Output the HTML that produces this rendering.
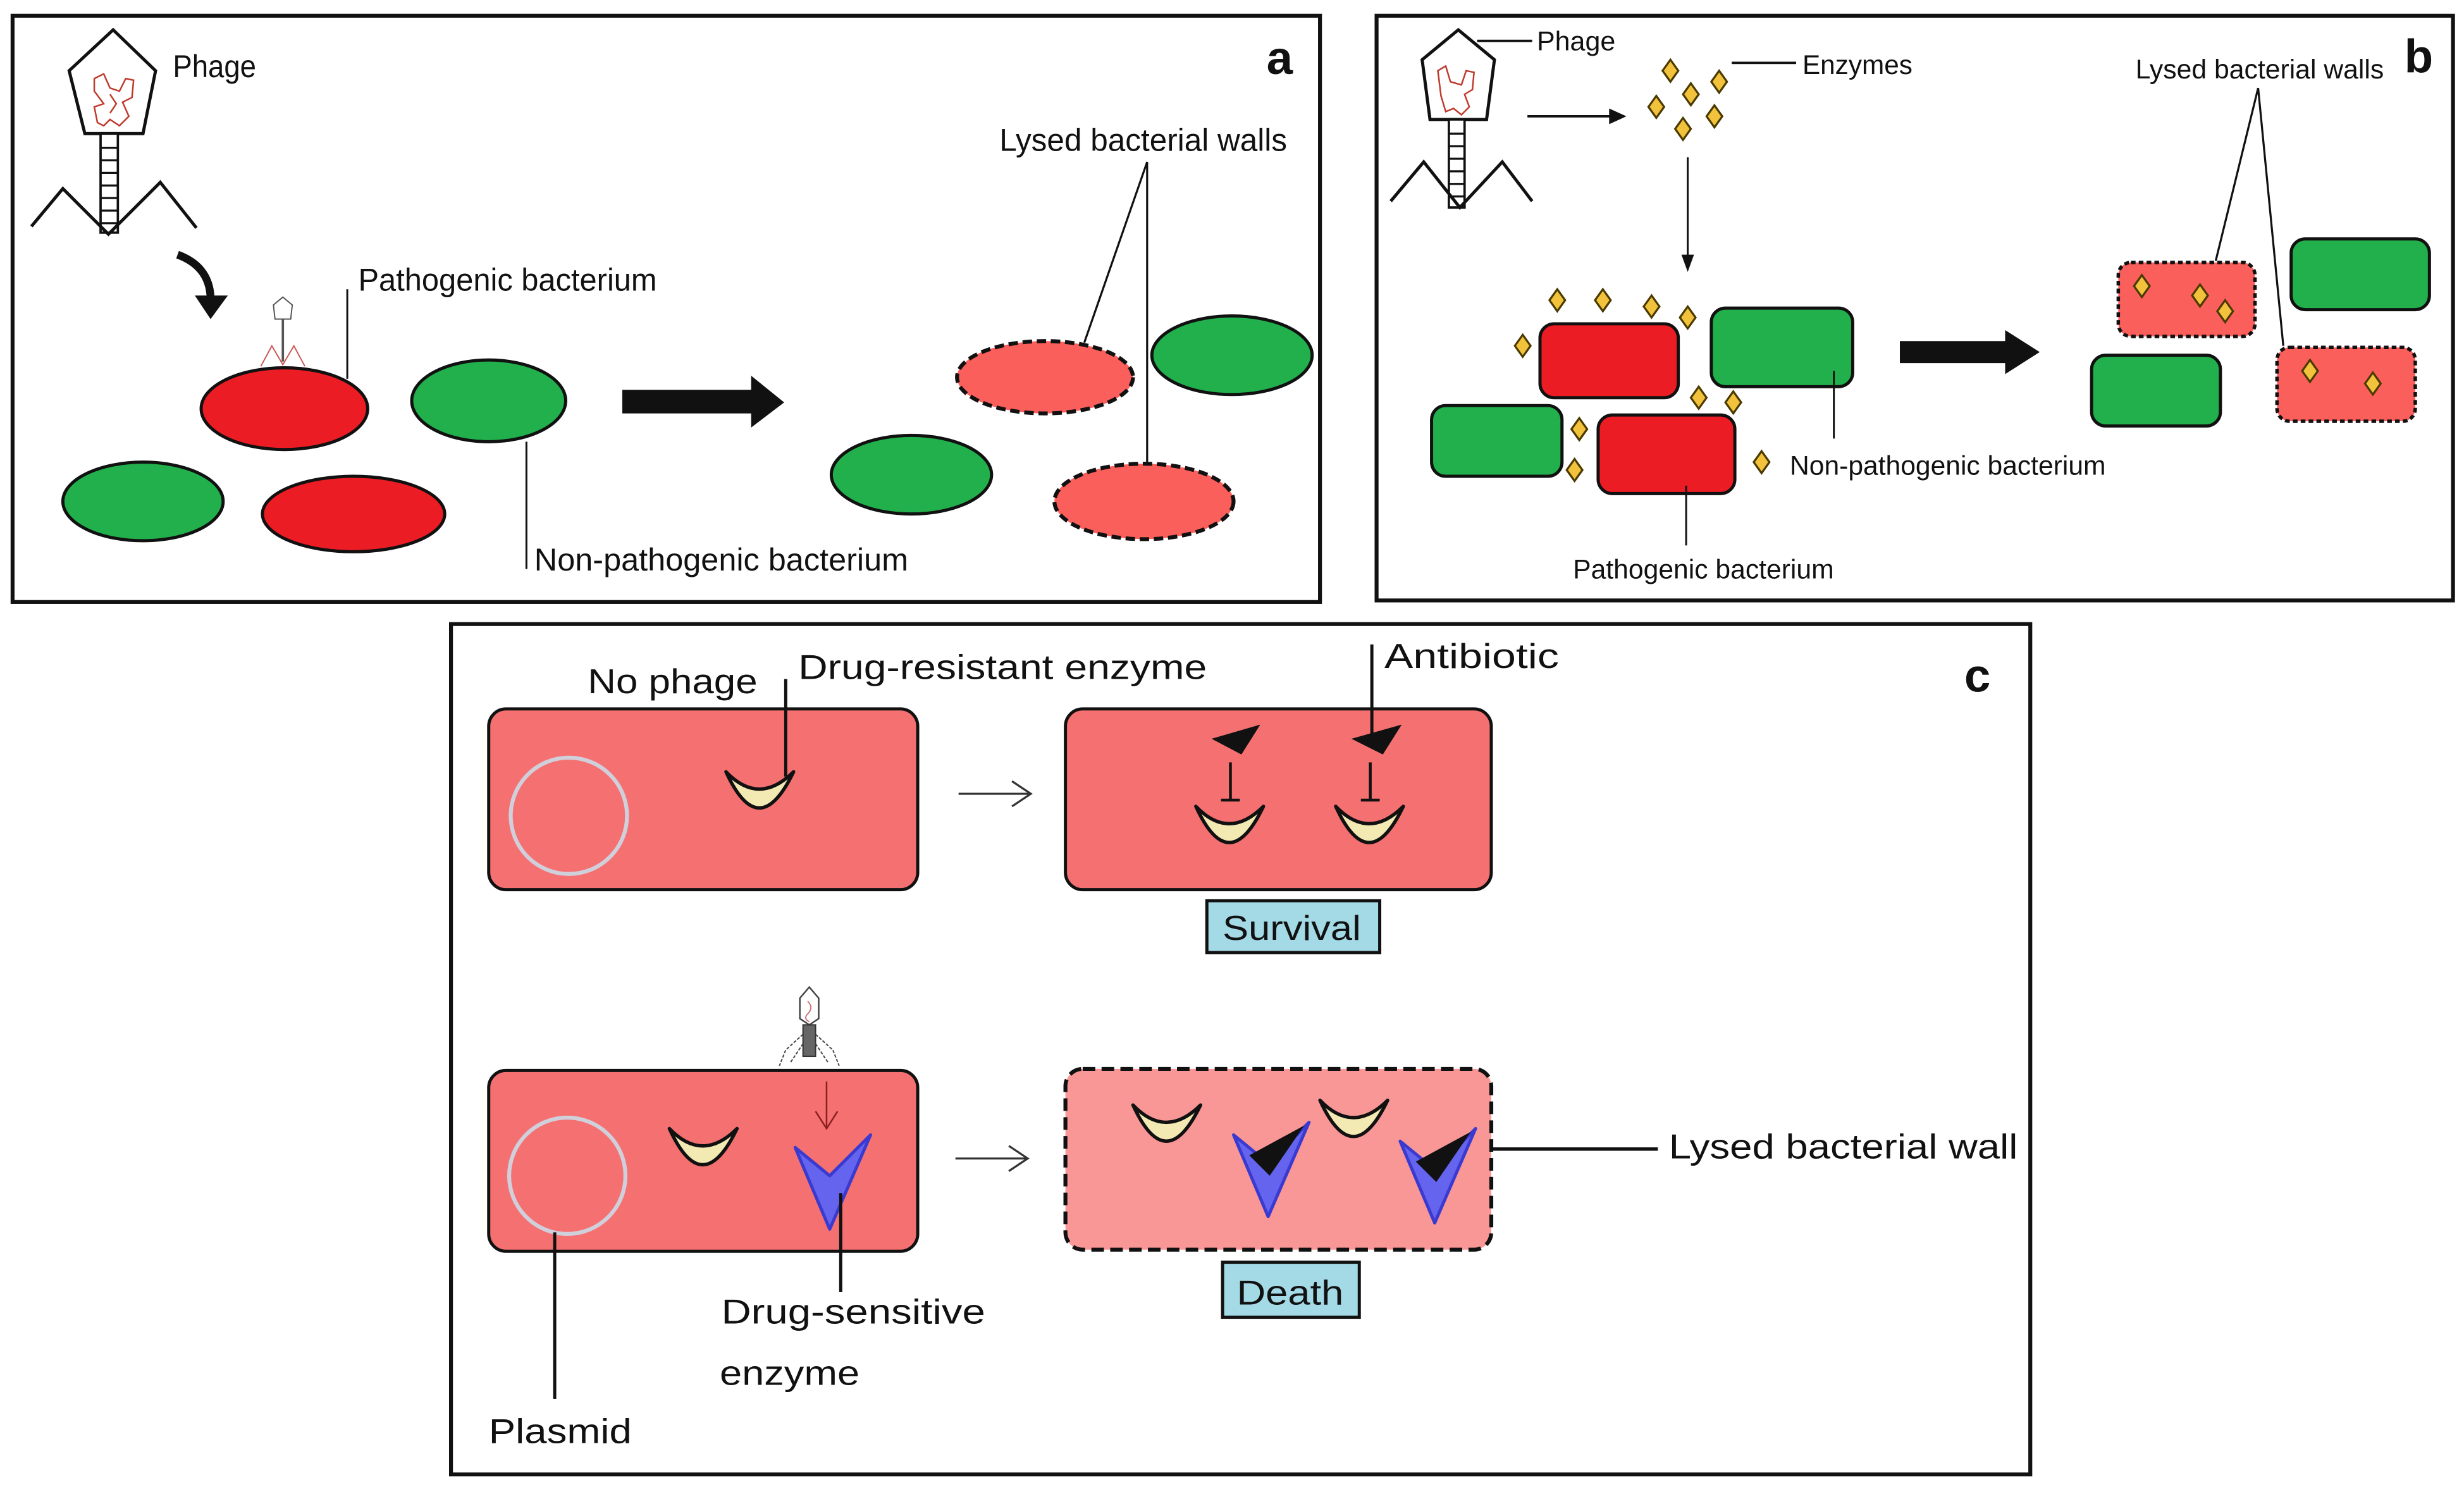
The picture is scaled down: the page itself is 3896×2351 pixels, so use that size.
<!DOCTYPE html>
<html><head><meta charset="utf-8"><style>
html,body{margin:0;padding:0;background:#fff;}
svg{display:block;}
text{font-family:"Liberation Sans",sans-serif;fill:#111;}
</style></head><body>
<svg width="3896" height="2351" viewBox="0 0 1568 946" preserveAspectRatio="none" xmlns="http://www.w3.org/2000/svg">
<defs>
<g id="cres"><path d="M0,0 Q21,46 43,0 Q21,22 0,0 Z" fill="#f3e9b3" stroke="#111" stroke-width="2.2" stroke-linejoin="round"/></g>
<g id="dia"><polygon points="0,-7 5,0 0,7 -5,0" fill="#f2c23c" stroke="#4a3a00" stroke-width="1.3"/></g>
<g id="vb"><polygon points="0,8 22,26 48,0 22,60" fill="#6464ee" stroke="#3a3ad0" stroke-width="2" stroke-linejoin="round"/></g>
</defs>
<rect width="1568" height="946" fill="#fff"/>

<!-- PANEL A -->
<rect x="8" y="10" width="832" height="373" fill="none" stroke="#111" stroke-width="2.5"/>
<text x="806" y="47" font-size="30" font-weight="bold">a</text>
<polygon points="72,19 99,45 91,85 54,85 44,45" fill="#fff" stroke="#111" stroke-width="2"/>
<path d="M60,50 L66,47 L70,56 L76,58 L80,50 L85,51 L84,62 L78,65 L82,74 L76,80 L70,76 L66,80 L62,78 L60,68 L66,66 L60,58 Z M70,60 L74,66 L70,72" fill="none" stroke="#c0392b" stroke-width="1"/>
<rect x="64" y="85" width="11" height="63" fill="#fff" stroke="#111" stroke-width="1.5"/>
<path d="M64,94H75M64,102H75M64,110H75M64,118H75M64,126H75M64,134H75M64,142H75" stroke="#111" stroke-width="1.3"/>
<polyline points="20,144 40,120 69,149 102,116 125,145" fill="none" stroke="#111" stroke-width="2"/>
<text x="110" y="49" font-size="20" textLength="53" lengthAdjust="spacingAndGlyphs">Phage</text>
<path d="M113,162 Q135,170 134,193" fill="none" stroke="#111" stroke-width="5"/>
<polygon points="124,188 145,188 134,203" fill="#111"/>
<!-- small phage -->
<polygon points="180,189 186,194 185,203 175,203 174,194" fill="#fff" stroke="#555" stroke-width="0.8"/>
<line x1="180" y1="203" x2="180" y2="230" stroke="#555" stroke-width="1.5"/>
<polyline points="166,233 173,220 180,232 187,220 194,233" fill="none" stroke="#c55" stroke-width="0.8"/>
<ellipse cx="181" cy="260" rx="53" ry="26" fill="#ec1c24" stroke="#111" stroke-width="2"/>
<ellipse cx="311" cy="255" rx="49" ry="26" fill="#21b04b" stroke="#111" stroke-width="2"/>
<ellipse cx="91" cy="319" rx="51" ry="25" fill="#21b04b" stroke="#111" stroke-width="2"/>
<ellipse cx="225" cy="327" rx="58" ry="24" fill="#ec1c24" stroke="#111" stroke-width="2"/>
<line x1="221" y1="184" x2="221" y2="241" stroke="#111" stroke-width="1.2"/>
<text x="228" y="185" font-size="20" textLength="190" lengthAdjust="spacingAndGlyphs">Pathogenic bacterium</text>
<line x1="335" y1="281" x2="335" y2="362" stroke="#111" stroke-width="1.2"/>
<text x="340" y="363" font-size="20" textLength="238" lengthAdjust="spacingAndGlyphs">Non-pathogenic bacterium</text>
<polygon points="396,248 478,248 478,239 499,256 478,272 478,263 396,263" fill="#111"/>
<ellipse cx="665" cy="240" rx="56" ry="23" fill="#fa5f5b" stroke="#111" stroke-width="2.5" stroke-dasharray="6 3"/>
<ellipse cx="784" cy="226" rx="51" ry="25" fill="#21b04b" stroke="#111" stroke-width="2"/>
<ellipse cx="580" cy="302" rx="51" ry="25" fill="#21b04b" stroke="#111" stroke-width="2"/>
<ellipse cx="728" cy="319" rx="57" ry="24" fill="#fa5f5b" stroke="#111" stroke-width="2.5" stroke-dasharray="6 3"/>
<text x="636" y="96" font-size="20" textLength="183" lengthAdjust="spacingAndGlyphs">Lysed bacterial walls</text>
<path d="M730,103 L690,218 M730,103 L730,296" stroke="#111" stroke-width="1.3" fill="none"/>

<!-- PANEL B -->
<rect x="876" y="10" width="685" height="372" fill="none" stroke="#111" stroke-width="2.5"/>
<text x="1530" y="46" font-size="30" font-weight="bold">b</text>
<polygon points="928,19 951,38 946,76 910,76 905,38" fill="#fff" stroke="#111" stroke-width="2"/>
<path d="M915,45 L920,42 L923,52 L930,54 L933,45 L938,46 L937,57 L932,60 L935,68 L930,73 L925,69 L920,71 L917,61 Z" fill="none" stroke="#c0392b" stroke-width="1"/>
<rect x="922" y="76" width="10" height="56" fill="#fff" stroke="#111" stroke-width="1.5"/>
<path d="M922,85H932M922,93H932M922,101H932M922,109H932M922,117H932M922,125H932" stroke="#111" stroke-width="1.3"/>
<polyline points="885,128 906,103 929,132 956,103 975,128" fill="none" stroke="#111" stroke-width="2"/>
<line x1="940" y1="26" x2="975" y2="26" stroke="#111" stroke-width="1.5"/>
<text x="978" y="32" font-size="17" textLength="50" lengthAdjust="spacingAndGlyphs">Phage</text>
<line x1="972" y1="74" x2="1028" y2="74" stroke="#111" stroke-width="1.5"/>
<polygon points="1024,69 1035,74 1024,79" fill="#111"/>
<use href="#dia" x="1063" y="45"/><use href="#dia" x="1094" y="52"/><use href="#dia" x="1076" y="60"/>
<use href="#dia" x="1054" y="68"/><use href="#dia" x="1091" y="74"/><use href="#dia" x="1071" y="82"/>
<line x1="1102" y1="40" x2="1143" y2="40" stroke="#111" stroke-width="1.5"/>
<text x="1147" y="47" font-size="17" textLength="70" lengthAdjust="spacingAndGlyphs">Enzymes</text>
<line x1="1074" y1="100" x2="1074" y2="166" stroke="#111" stroke-width="1.2"/>
<polygon points="1070,162 1078,162 1074,173" fill="#111"/>
<rect x="980" y="206" width="88" height="47" rx="9" fill="#ec1c24" stroke="#111" stroke-width="2"/>
<rect x="1089" y="196" width="90" height="50" rx="9" fill="#21b04b" stroke="#111" stroke-width="2"/>
<rect x="911" y="258" width="83" height="45" rx="9" fill="#21b04b" stroke="#111" stroke-width="2"/>
<rect x="1017" y="264" width="87" height="50" rx="9" fill="#ec1c24" stroke="#111" stroke-width="2"/>
<use href="#dia" x="991" y="191"/><use href="#dia" x="1020" y="191"/><use href="#dia" x="1051" y="195"/>
<use href="#dia" x="1074" y="202"/><use href="#dia" x="969" y="220"/><use href="#dia" x="1081" y="253"/>
<use href="#dia" x="1103" y="256"/><use href="#dia" x="1005" y="273"/><use href="#dia" x="1002" y="299"/>
<use href="#dia" x="1121" y="294"/>
<line x1="1167" y1="236" x2="1167" y2="279" stroke="#111" stroke-width="1.2"/>
<text x="1139" y="302" font-size="17" textLength="201" lengthAdjust="spacingAndGlyphs">Non-pathogenic bacterium</text>
<line x1="1073" y1="309" x2="1073" y2="347" stroke="#111" stroke-width="1.2"/>
<text x="1001" y="368" font-size="17" textLength="166" lengthAdjust="spacingAndGlyphs">Pathogenic bacterium</text>
<polygon points="1209,217 1276,217 1276,210 1298,224 1276,238 1276,231 1209,231" fill="#111"/>
<rect x="1348" y="167" width="87" height="47" rx="8" fill="#fa5f5b" stroke="#111" stroke-width="2.2" stroke-dasharray="3 2"/>
<rect x="1458" y="152" width="88" height="45" rx="9" fill="#21b04b" stroke="#111" stroke-width="2"/>
<rect x="1331" y="226" width="82" height="45" rx="9" fill="#21b04b" stroke="#111" stroke-width="2"/>
<rect x="1449" y="221" width="88" height="47" rx="8" fill="#fa5f5b" stroke="#111" stroke-width="2.2" stroke-dasharray="3 2"/>
<use href="#dia" x="1363" y="182"/><use href="#dia" x="1400" y="188"/><use href="#dia" x="1416" y="198"/>
<use href="#dia" x="1470" y="236"/><use href="#dia" x="1510" y="244"/>
<text x="1359" y="50" font-size="17" textLength="158" lengthAdjust="spacingAndGlyphs">Lysed bacterial walls</text>
<path d="M1437,56 L1410,166 M1437,56 L1453,220" stroke="#111" stroke-width="1.3" fill="none"/>

<!-- PANEL C -->
<rect x="287" y="397" width="1005" height="541" fill="none" stroke="#111" stroke-width="2.5"/>
<text x="1250" y="440" font-size="30" font-weight="bold">c</text>
<rect x="311" y="451" width="273" height="115" rx="11" fill="#f57171" stroke="#111" stroke-width="2"/>
<circle cx="362" cy="519" r="37" fill="none" stroke="#d0d0dc" stroke-width="2.5"/>
<use href="#cres" x="462" y="491"/>
<text x="374" y="441" font-size="22" textLength="108" lengthAdjust="spacingAndGlyphs">No phage</text>
<line x1="500" y1="432" x2="500" y2="494" stroke="#111" stroke-width="2"/>
<text x="508" y="432" font-size="22" textLength="260" lengthAdjust="spacingAndGlyphs">Drug-resistant enzyme</text>
<line x1="610" y1="505" x2="655" y2="505" stroke="#333" stroke-width="1.3"/>
<polyline points="644,497 656,505 644,513" fill="none" stroke="#333" stroke-width="1.3"/>
<rect x="678" y="451" width="271" height="115" rx="11" fill="#f57171" stroke="#111" stroke-width="2"/>
<polygon points="771,470 802,461 790,480" fill="#111"/>
<polygon points="860,470 892,461 880,480" fill="#111"/>
<line x1="783" y1="485" x2="783" y2="509" stroke="#111" stroke-width="1.8"/>
<line x1="777" y1="509" x2="789" y2="509" stroke="#111" stroke-width="1.8"/>
<line x1="872" y1="485" x2="872" y2="509" stroke="#111" stroke-width="1.8"/>
<line x1="866" y1="509" x2="878" y2="509" stroke="#111" stroke-width="1.8"/>
<use href="#cres" x="761" y="513"/><use href="#cres" x="850" y="513"/>
<line x1="873" y1="410" x2="873" y2="472" stroke="#111" stroke-width="2"/>
<text x="881" y="425" font-size="22" textLength="111" lengthAdjust="spacingAndGlyphs">Antibiotic</text>
<rect x="768" y="573" width="110" height="33" fill="#a4d9e6" stroke="#111" stroke-width="2"/>
<text x="778" y="598" font-size="22" textLength="88" lengthAdjust="spacingAndGlyphs">Survival</text>

<rect x="311" y="681" width="273" height="115" rx="11" fill="#f57171" stroke="#111" stroke-width="2"/>
<circle cx="361" cy="748" r="37" fill="none" stroke="#d0d0dc" stroke-width="2.5"/>
<use href="#cres" x="426" y="718"/>
<!-- small phage -->
<polygon points="515,628 521,635 521,648 515,652 509,648 509,635" fill="#fff" stroke="#444" stroke-width="1"/>
<path d="M514,637 Q518,641 514,645 Q511,648 515,650" fill="none" stroke="#c77" stroke-width="0.8"/>
<rect x="511" y="652" width="8" height="20" fill="#666" stroke="#333" stroke-width="0.8"/>
<path d="M511,658 L500,668 L496,678 M519,658 L530,668 L534,678 M511,664 L503,676 M519,664 L527,676" fill="none" stroke="#444" stroke-width="0.8" stroke-dasharray="2 1"/>
<line x1="526" y1="688" x2="526" y2="718" stroke="#8a1f1f" stroke-width="1"/>
<polyline points="519,707 526,718 533,707" fill="none" stroke="#8a1f1f" stroke-width="1"/>
<use href="#vb" x="506" y="722"/>
<line x1="535" y1="759" x2="535" y2="822" stroke="#111" stroke-width="2"/>
<text x="459" y="842" font-size="22" textLength="168" lengthAdjust="spacingAndGlyphs">Drug-sensitive</text>
<text x="458" y="881" font-size="22" textLength="89" lengthAdjust="spacingAndGlyphs">enzyme</text>
<line x1="353" y1="784" x2="353" y2="890" stroke="#111" stroke-width="2"/>
<text x="311" y="918" font-size="22" textLength="91" lengthAdjust="spacingAndGlyphs">Plasmid</text>
<line x1="608" y1="737" x2="653" y2="737" stroke="#333" stroke-width="1.3"/>
<polyline points="642,729 654,737 642,745" fill="none" stroke="#333" stroke-width="1.3"/>
<rect x="678" y="680" width="271" height="115" rx="11" fill="#f99797" stroke="#111" stroke-width="2.5" stroke-dasharray="8 4"/>
<use href="#cres" x="721" y="703"/><use href="#cres" x="840" y="700"/>
<use href="#vb" x="785" y="714"/><use href="#vb" x="891" y="718"/>
<polygon points="795,735 830,716 808,748" fill="#111"/>
<polygon points="901,739 936,720 914,752" fill="#111"/>
<line x1="950" y1="731" x2="1055" y2="731" stroke="#111" stroke-width="2.2"/>
<text x="1062" y="737" font-size="22" textLength="222" lengthAdjust="spacingAndGlyphs">Lysed bacterial wall</text>
<rect x="778" y="803" width="87" height="35" fill="#a4d9e6" stroke="#111" stroke-width="2"/>
<text x="787" y="830" font-size="22" textLength="68" lengthAdjust="spacingAndGlyphs">Death</text>
</svg>
</body></html>
